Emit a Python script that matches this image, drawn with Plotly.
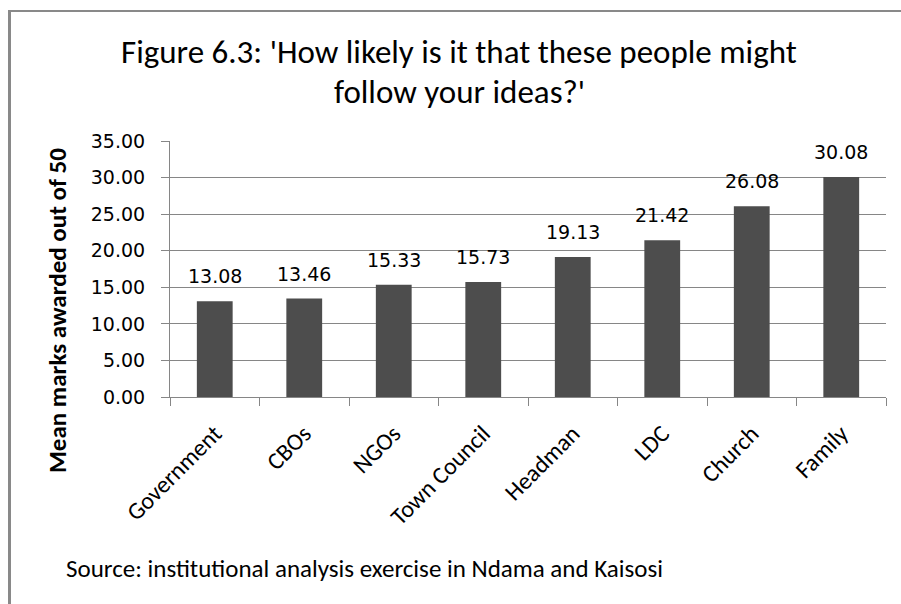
import plotly.graph_objects as go

categories = ["Government", "CBOs", "NGOs", "Town Council", "Headman", "LDC", "Church", "Family"]
values = [13.08, 13.46, 15.33, 15.73, 19.13, 21.42, 26.08, 30.08]
y_ticks = [0, 5, 10, 15, 20, 25, 30, 35]

FONT = "Carlito, Lato, sans-serif"
NUMFONT = "DejaVu Sans, sans-serif"
W, H = 901, 604
L, R, T, B = 170, 886, 141, 397

def px(x):
    return (x - L) / (R - L)

def py(y):
    return (B - y) / (B - T)

fig = go.Figure(go.Bar(
    x=categories, y=values,
    marker=dict(color="#4d4d4d", line=dict(width=0)),
    hoverinfo="x+y",
))

annotations = []
for c, v in zip(categories, values):
    annotations.append(dict(x=c, y=v, xref="x", yref="y", text=f"{v:.2f}",
                            showarrow=False, yanchor="middle", yshift=25,
                            font=dict(family=NUMFONT, size=19, color="#000")))

annotations += [
    dict(x=px(459), y=py(52), xref="paper", yref="paper", showarrow=False,
         text="Figure 6.3: 'How likely is it that these people might",
         font=dict(family=FONT, size=33, color="#000"), xanchor="center", yanchor="middle"),
    dict(x=px(459), y=py(92), xref="paper", yref="paper", showarrow=False,
         text="follow your ideas?'",
         font=dict(family=FONT, size=33, color="#000"), xanchor="center", yanchor="middle"),
    dict(x=px(57), y=py(311), xref="paper", yref="paper", showarrow=False,
         text="<b>Mean marks awarded out of 50</b>", textangle=-90,
         font=dict(family=FONT, size=25, color="#000"), xanchor="center", yanchor="middle"),
    dict(x=px(64), y=py(568), xref="paper", yref="paper", showarrow=False,
         text="Source: institutional analysis exercise in Ndama and Kaisosi",
         font=dict(family=FONT, size=25, color="#000"), xanchor="left", yanchor="middle"),
]

shapes = [
    dict(type="line", xref="paper", yref="paper", x0=px(9.5), x1=px(9.5), y0=py(10), y1=py(615),
         line=dict(color="#898989", width=3)),
    dict(type="line", xref="paper", yref="paper", x0=px(8), x1=px(910), y0=py(11), y1=py(11),
         line=dict(color="#898989", width=2)),
]

fig.update_layout(
    width=W, height=H,
    margin=dict(l=L, r=W - R, t=T, b=H - B),
    paper_bgcolor="white", plot_bgcolor="white",
    bargap=0.6,
    showlegend=False,
    annotations=annotations,
    shapes=shapes,
    font=dict(family=FONT, color="#000"),
    xaxis=dict(
        showline=True, linecolor="#868686", linewidth=1,
        ticks="outside", tickson="boundaries", ticklen=8, tickcolor="#868686",
        tickangle=-45, tickfont=dict(family=FONT, size=24, color="#000"),
        showgrid=False,
        ticklabelstandoff=12,
    ),
    yaxis=dict(
        range=[0, 35], tickvals=y_ticks, tickformat=".2f",
        showline=True, linecolor="#868686", linewidth=1,
        ticks="outside", ticklen=8, tickcolor="#868686",
        showgrid=True, gridcolor="#868686", gridwidth=1,
        zeroline=False,
        tickfont=dict(family=NUMFONT, size=19, color="#000"),
        ticklabelstandoff=12,
    ),
)

fig.write_html("out.html")
